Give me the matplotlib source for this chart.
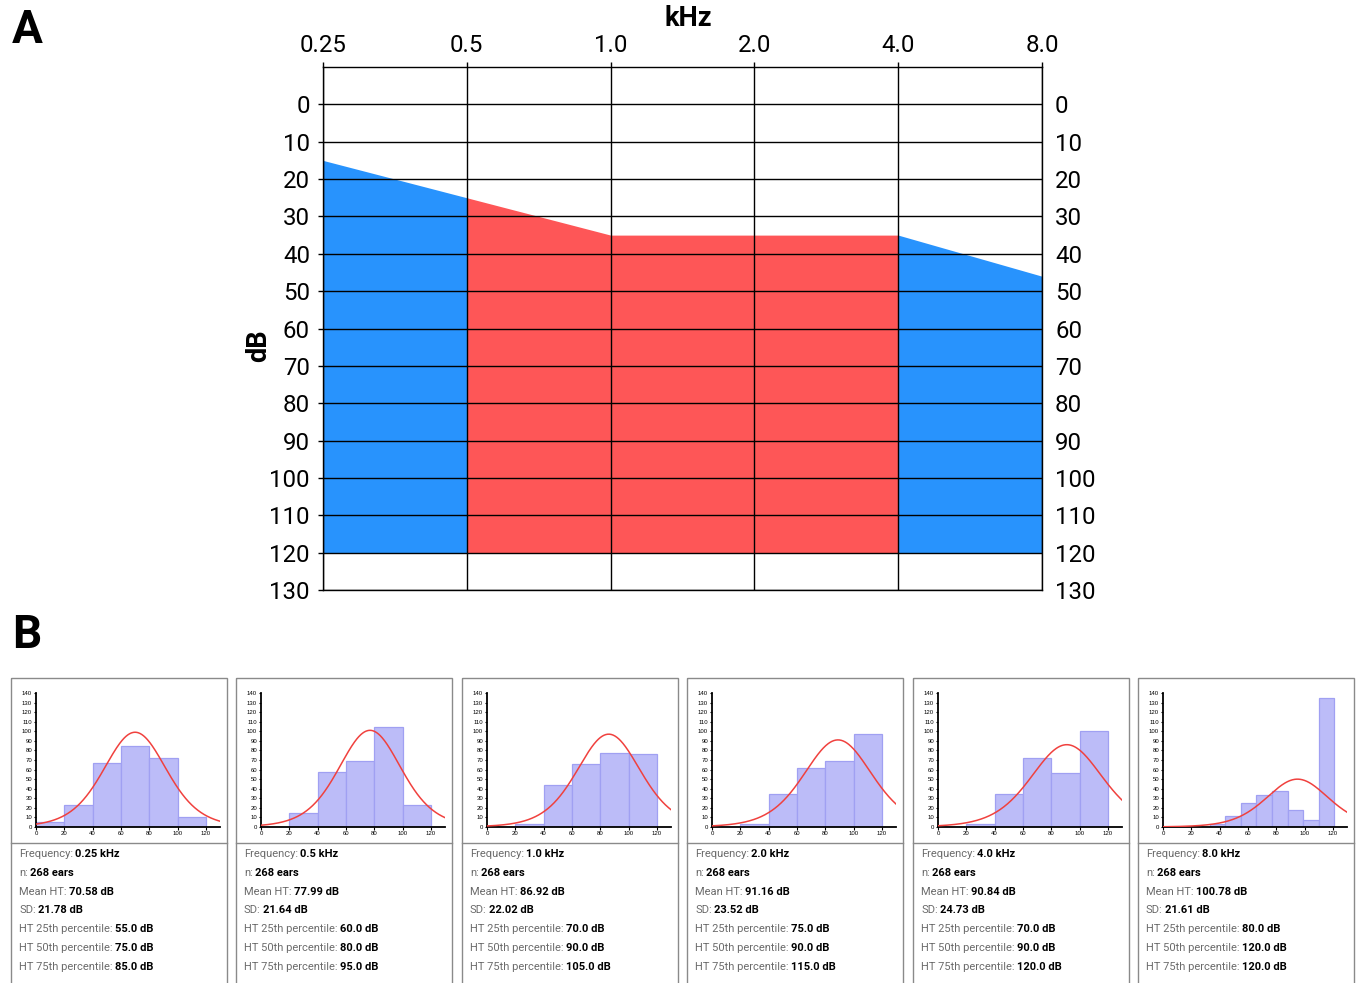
import numpy as np
import matplotlib
matplotlib.use("Agg")
import matplotlib.pyplot as plt
from matplotlib.patches import Rectangle
from matplotlib.lines import Line2D

plt.rcParams['font.family'] = ['Roboto', 'DejaVu Sans']

# ---------------- data ----------------
freqs = [0.25, 0.5, 1.0, 2.0, 4.0, 8.0]
freq_labels = ["0.25", "0.5", "1.0", "2.0", "4.0", "8.0"]
db_ticks = [0, 10, 20, 30, 40, 50, 60, 70, 80, 90, 100, 110, 120, 130]
# upper boundary of the shaded region (dB) at each frequency
upper_db = [15, 25, 35, 35, 35, 46]
lower_db = 120
# region segments: (start freq index, end freq index, colour key)
segments = [(0, 1, "blue"), (1, 4, "red"), (4, 5, "blue")]
colors = {"blue": "#2893fd", "red": "#fe5657"}

# histograms (dB bins, ear counts)
hist_edges = [
    [0, 20, 40, 60, 80, 100, 120],
    [0, 20, 40, 60, 80, 100, 120],
    [0, 20, 40, 60, 80, 100, 120],
    [0, 20, 40, 60, 80, 100, 120],
    [0, 20, 40, 60, 80, 100, 120],
    [33, 44, 55, 66, 77, 88, 99, 110, 121],
]
hist_counts = [
    [5, 23, 67, 85, 72, 10],
    [0, 15, 57, 69, 104, 23],
    [0, 3, 44, 66, 77, 76],
    [0, 3, 34, 62, 69, 97],
    [0, 3, 34, 72, 56, 100],
    [3, 12, 25, 33, 38, 18, 7, 135],
]
# fitted distribution curve as drawn: centre and peak height
curve_center = [70, 77, 86, 89, 91, 95]
curve_peak = [99, 101, 97, 91, 86, 50]

stat_freq = ["0.25 kHz", "0.5 kHz", "1.0 kHz", "2.0 kHz", "4.0 kHz", "8.0 kHz"]
stat_n = [268, 268, 268, 268, 268, 268]
stat_mean = [70.58, 77.99, 86.92, 91.16, 90.84, 100.78]
stat_sd = [21.78, 21.64, 22.02, 23.52, 24.73, 21.61]
stat_p25 = [55.0, 60.0, 70.0, 75.0, 70.0, 80.0]
stat_p50 = [75.0, 80.0, 90.0, 90.0, 90.0, 120.0]
stat_p75 = [85.0, 95.0, 105.0, 115.0, 120.0, 120.0]

# ---------------- figure ----------------
W, H = 1358, 983
fig = plt.figure(figsize=(W / 100, H / 100), dpi=100)


def fx(px):
    return px / W


def fy(py):
    return 1 - py / H


# ---------------- panel A ----------------
ax = fig.add_axes([fx(323), fy(590), (1042 - 323) / W, (590 - 67) / H])
ax.set_xscale('log', base=2)
ax.set_xlim(freqs[0], freqs[-1])
ax.set_ylim(130, -10)

for i0, i1, c in segments:
    xs = freqs[i0:i1 + 1]
    ys = upper_db[i0:i1 + 1]
    ax.fill_between(xs, ys, [lower_db] * len(xs), color=colors[c], lw=0, zorder=1)

for f in freqs:
    ax.axvline(f, color='black', lw=1.0, zorder=3)
for d in db_ticks:
    ax.axhline(d, color='black', lw=1.0, zorder=3)

for s in ax.spines.values():
    s.set_linewidth(1.0)
    s.set_zorder(4)

ax.set_xticks(freqs)
ax.set_xticklabels(freq_labels)
ax.xaxis.set_minor_locator(matplotlib.ticker.NullLocator())
ax.tick_params(axis='x', which='both', top=True, bottom=False, labeltop=True,
               labelbottom=False, direction='out', length=3.6, width=1.0,
               pad=3.7, labelsize=17.3)
ax.set_yticks(db_ticks)
ax.set_yticklabels([str(d) for d in db_ticks])
ax.tick_params(axis='y', left=True, right=False, labelleft=True, labelright=True,
               direction='out', length=3.6, width=1.0, pad=5.8, labelsize=17.3)

fig.text(fx(688), fy(18), "kHz", ha='center', va='center', fontsize=19.5,
         fontweight='bold')
fig.text(fx(259), fy(346), "dB", ha='center', va='center', fontsize=19.5,
         fontweight='bold', rotation=90)
fig.text(fx(27), fy(30), "A", ha='center', va='center', fontsize=33,
         fontweight='bold')
fig.text(fx(27), fy(635), "B", ha='center', va='center', fontsize=33,
         fontweight='bold')

# ---------------- panel B ----------------
overlay = fig.add_axes([0, 0, 1, 1])
overlay.set_xlim(0, W)
overlay.set_ylim(H, 0)
overlay.axis('off')
overlay.set_zorder(-1)

box_x0 = [11, 236, 462, 687, 913, 1138]
box_w = 216
xc = np.linspace(0, 130, 300)
nu = 8.0  # tail heaviness of the drawn fit curve

label_col = '#6b6b6b'
fs = 8.0

for i in range(6):
    x0 = box_x0[i]
    overlay.add_patch(Rectangle((x0, 678), box_w, 320, fill=False,
                                edgecolor='#8a8a8a', lw=1.0))
    overlay.add_line(Line2D([x0, x0 + box_w], [842.5, 842.5], color='#8a8a8a', lw=1.0))

    hx = fig.add_axes([fx(x0 + 25), fy(827), 184 / W, (827 - 693) / H])
    e = np.array(hist_edges[i], dtype=float)
    hx.bar(e[:-1], hist_counts[i], width=np.diff(e), align='edge',
           facecolor='#bcbcf8', edgecolor='#a0a0f2', lw=0.9, zorder=2)
    s_ = 1.05 * stat_sd[i]
    yc = curve_peak[i] * (1 + ((xc - curve_center[i]) / s_) ** 2 / nu) ** (-(nu + 1) / 2)
    hx.plot(xc, yc, color='#f0413e', lw=1.1, zorder=3)
    hx.set_xlim(0, 130)
    hx.set_ylim(0, 140)
    hx.set_xticks(np.arange(0, 121, 20))
    hx.set_yticks(np.arange(0, 141, 10))
    for s in ['top', 'right']:
        hx.spines[s].set_visible(False)
    for s in ['left', 'bottom']:
        hx.spines[s].set_linewidth(1.3)
    hx.patch.set_alpha(0)
    hx.tick_params(labelsize=4.3, length=1.8, width=0.8, pad=1.0)
    for lab in hx.get_xticklabels() + hx.get_yticklabels():
        lab.set_fontfamily(['Liberation Sans', 'DejaVu Sans'])

    rows = [
        ("Frequency:", stat_freq[i]),
        ("n:", f"{stat_n[i]} ears"),
        ("Mean HT:", f"{stat_mean[i]:.2f} dB"),
        ("SD:", f"{stat_sd[i]:.2f} dB"),
        ("HT 25th percentile:", f"{stat_p25[i]:.1f} dB"),
        ("HT 50th percentile:", f"{stat_p50[i]:.1f} dB"),
        ("HT 75th percentile:", f"{stat_p75[i]:.1f} dB"),
    ]
    for r, (lab, val) in enumerate(rows):
        yy = 854 + r * 18.8
        t = overlay.text(x0 + 8, yy, lab, ha='left', va='center', fontsize=fs,
                         color=label_col)
        overlay.annotate(val, xy=(1, 0.5), xycoords=t, xytext=(1.7, 0),
                         textcoords='offset points', ha='left', va='center',
                         fontsize=fs, fontweight='bold', color='black')

fig.savefig("out.png", dpi=100)
